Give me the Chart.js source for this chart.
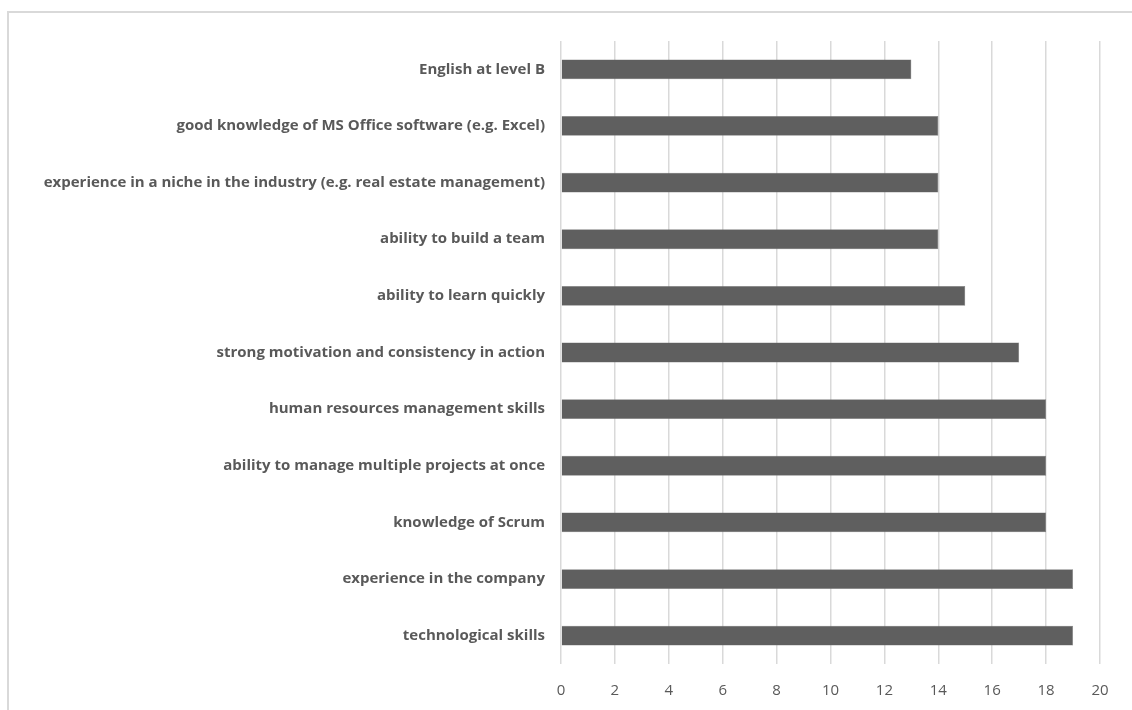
<!DOCTYPE html>
<html>
<head>
<meta charset="utf-8">
<script src="https://cdn.jsdelivr.net/npm/chart.js@4/dist/chart.umd.min.js"></script>
<style>
    html, body { margin: 0; padding: 0; background: #ffffff; }
    .wrap { position: relative; width: 1132px; height: 710px; overflow: hidden; }
    .frame {
        position: absolute; left: 7px; top: 11px; width: 1200px; height: 800px;
        border-left: 2px solid #d9d9d9; border-top: 2px solid #d9d9d9;
    }
    canvas { position: absolute; left: 0; top: 0; }
</style>
</head>
<body>
<div class="wrap">
    <div class="frame"></div>
    <canvas id="chart" width="1132" height="710"></canvas>
</div>
<script>
const skills = [
    'English at level B',
    'good knowledge of MS Office software (e.g. Excel)',
    'experience in a niche in the industry (e.g. real estate management)',
    'ability to build a team',
    'ability to learn quickly',
    'strong motivation and consistency in action',
    'human resources management skills',
    'ability to manage multiple projects at once',
    'knowledge of Scrum',
    'experience in the company',
    'technological skills'
];
const counts = [13, 14, 14, 14, 15, 17, 18, 18, 18, 19, 19];
const xTicks = [0, 2, 4, 6, 8, 10, 12, 14, 16, 18, 20];

const ctx = document.getElementById('chart').getContext('2d');
const chart = new Chart(ctx, {
    type: 'bar',
    data: {
        labels: skills,
        datasets: [{
            label: 'Responses',
            data: counts,
            backgroundColor: '#5f5f5f',
            borderColor: '#7a7a7a',
            borderWidth: 0.5,
            barPercentage: 0.7,
            categoryPercentage: 0.5
        }]
    },
    options: {
        indexAxis: 'y',
        responsive: false,
        animation: false,
        layout: {
            padding: { top: 41, right: 32, left: 0, bottom: 0 }
        },
        plugins: {
            legend: { display: false },
            tooltip: { enabled: false }
        },
        scales: {
            x: {
                min: 0,
                max: 20,
                afterBuildTicks: function(scale) {
                    scale.ticks = xTicks.map(v => ({ value: v }));
                },
                afterFit: function(scale) {
                    scale.height = 46;
                },
                grid: {
                    color: '#d9d9d9',
                    lineWidth: 1.5,
                    drawTicks: false
                },
                border: { display: false },
                ticks: {
                    color: '#595959',
                    padding: 18,
                    font: { family: 'Open Sans', size: 15 }
                }
            },
            y: {
                afterFit: function(scale) {
                    scale.width = 561;
                },
                grid: { display: false },
                border: { display: false },
                ticks: {
                    color: '#595959',
                    padding: 8,
                    font: { family: 'Open Sans', size: 15, weight: 'bold' }
                }
            }
        }
    }
});
</script>
</body>
</html>
